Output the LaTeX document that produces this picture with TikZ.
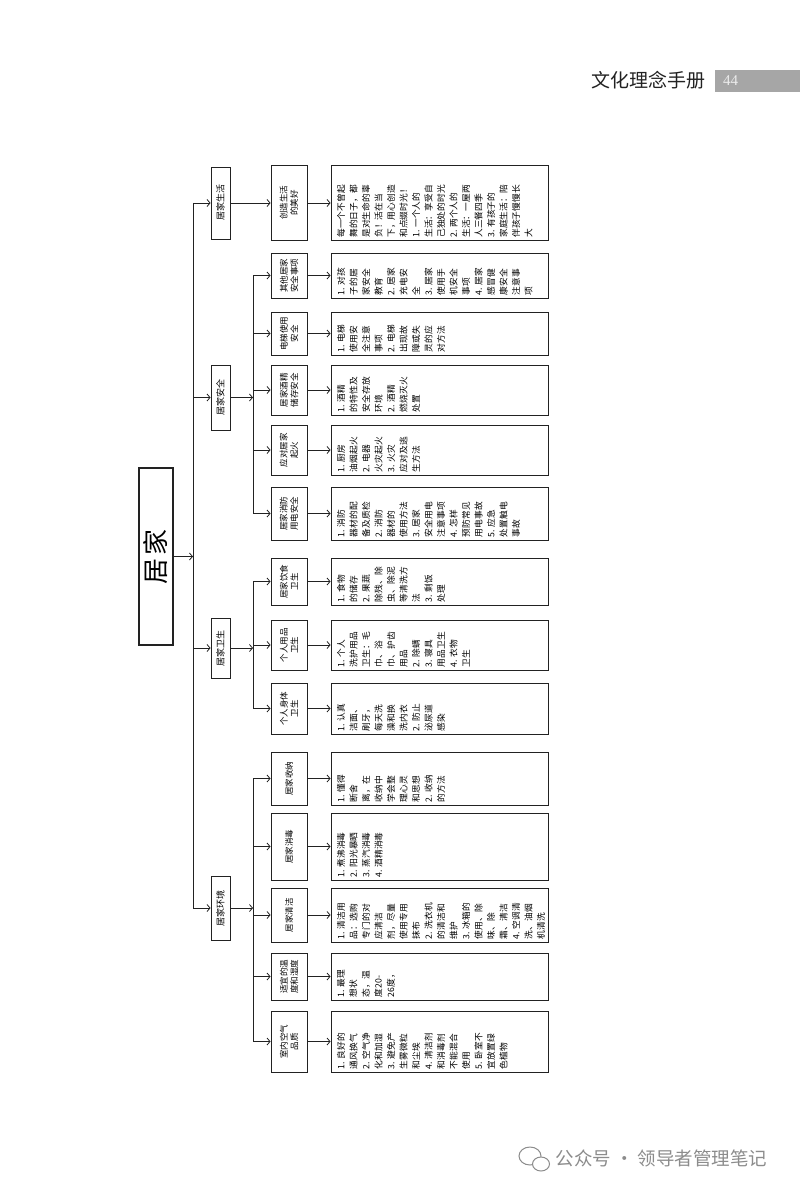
\documentclass[tikz,border=0pt]{standalone}
\usepackage{fontspec}
\setmainfont{Noto Sans CJK SC}
\newfontfamily\numfont{Liberation Serif}
\usetikzlibrary{arrows.meta}
\definecolor{InkGray}{HTML}{222222}
\definecolor{BarGray}{HTML}{A6A6A6}
\definecolor{MarkGray}{HTML}{8C8C8C}

\newcommand{\infotext}[2]{\parbox[c][205pt][t]{#1}{\raggedright #2}}

\begin{document}
\begin{tikzpicture}[x=1pt, y=-1pt,
  rootbox/.style={draw=InkGray, line width=1.3pt, rotate=90, minimum width=177pt, minimum height=34pt, inner sep=0pt, font=\fontsize{26}{26}\selectfont},
  catbox/.style={draw=InkGray, line width=0.9pt, rotate=90, minimum width=#1, minimum height=19pt, inner sep=0pt, font=\fontsize{9}{10}\selectfont},
  subbox/.style={draw=InkGray, line width=0.9pt, rotate=90, minimum width=#1, minimum height=36pt, inner sep=0pt, align=center, font=\fontsize{8.5}{10.5}\selectfont},
  infobox/.style={draw=InkGray, line width=0.9pt, rotate=90, inner xsep=3pt, inner ysep=6pt, font=\fontsize{8.7}{12.5}\selectfont},
  arrow/.style={-{Straight Barb[length=3pt,width=7pt]}, line width=0.8pt, InkGray},
  bus/.style={line width=0.8pt, InkGray},
]
\fill[white] (0,0) rectangle (800,1190);
\useasboundingbox (0,0) rectangle (800,1190);

% header
\node[font=\fontsize{19}{19}\selectfont, text=InkGray] (title) at (648,80) {文化理念手册};
\node[fill=BarGray, anchor=west, minimum height=22pt, text width=69pt, inner xsep=8pt, align=left, text=white!85!gray, font=\numfont\fontsize{15}{15}\selectfont] (pageno) at (715,81) {44};

% root and first level
\node[rootbox] (home) at (156,556.5) {居\hspace{3pt}家};
\coordinate (spine) at (193,556.5);
\node[catbox=72pt] (life) at (220.5,203) {居家生活};
\node[catbox=65pt] (safe) at (220.5,397.5) {居家安全};
\node[catbox=60pt] (hyg) at (220.5,648) {居家卫生};
\node[catbox=64pt] (env) at (220.5,908) {居家环境};
\coordinate (safebus) at (253,397.5);
\coordinate (hygbus) at (253,648);
\coordinate (envbus) at (253,908);

% second level
\node[subbox=75pt] (sub1) at (289,203) {创造生活\\的美好};
\node[subbox=45pt] (sub2) at (289,275.5) {其他居家\\安全事项};
\node[subbox=43pt] (sub3) at (289,333.5) {电梯使用\\安全};
\node[subbox=50pt] (sub4) at (289,390) {居家酒精\\储存安全};
\node[subbox=50pt] (sub5) at (289,450) {应对居家\\起火};
\node[subbox=53pt] (sub6) at (289,513.5) {居家消防\\用电安全};
\node[subbox=47pt] (sub7) at (289,581.5) {居家饮食\\卫生};
\node[subbox=50pt] (sub8) at (289,645) {个人用品\\卫生};
\node[subbox=51pt] (sub9) at (289,708.5) {个人身体\\卫生};
\node[subbox=53pt] (sub10) at (289,778.5) {居家收纳};
\node[subbox=67pt] (sub11) at (289,846.5) {居家消毒};
\node[subbox=54pt] (sub12) at (289,915) {居家清洁};
\node[subbox=47pt] (sub13) at (289,976.5) {适宜的温\\度和湿度};
\node[subbox=61pt] (sub14) at (289,1041.5) {室内空气\\品质};

% contents
\node[infobox] (info1) at (439.5,203) {\infotext{69pt}{每一个不曾起\\舞的日子，都\\是对生命的辜\\负！活在当\\下，用心创造\\和点缀时光！\\1. 一个人的\\生活：享受自\\己独处的时光\\2. 两个人的\\生活：一屋两\\人三餐四季\\3. 有孩子的\\家庭生活：陪\\伴孩子慢慢长\\大}};
\node[infobox] (info2) at (439.5,275.5) {\infotext{39pt}{1. 对孩\\子的居\\家安全\\教育\\2. 居家\\充电安\\全\\3. 居家\\使用手\\机安全\\事项\\4. 居家\\感冒健\\康安全\\注意事\\项}};
\node[infobox] (info3) at (439.5,333.5) {\infotext{37pt}{1. 电梯\\使用安\\全注意\\事项\\2. 电梯\\出现故\\障或失\\灵的应\\对方法}};
\node[infobox] (info4) at (439.5,390) {\infotext{44pt}{1. 酒精\\的特性及\\安全存放\\环境\\2. 酒精\\燃烧灭火\\处置}};
\node[infobox] (info5) at (439.5,450) {\infotext{44pt}{1. 厨房\\油烟起火\\2. 电器\\火灾起火\\3. 火灾\\应对及逃\\生方法}};
\node[infobox] (info6) at (439.5,513.5) {\infotext{47pt}{1. 消防\\器材的配\\备及质检\\2. 消防\\器材的\\使用方法\\3. 居家\\安全用电\\注意事项\\4. 怎样\\预防常见\\用电事故\\5. 应急\\处置触电\\事故}};
\node[infobox] (info7) at (439.5,581.5) {\infotext{41pt}{1. 食物\\的储存\\2. 果蔬\\除残、除\\虫、除泥\\等清洗方\\法\\3. 剩饭\\处理}};
\node[infobox] (info8) at (439.5,645) {\infotext{44pt}{1. 个人\\洗护用品\\卫生：毛\\巾、浴\\巾、护齿\\用品\\2. 除螨\\3. 寝具\\用品卫生\\4. 衣物\\卫生}};
\node[infobox] (info9) at (439.5,708.5) {\infotext{45pt}{1. 认真\\洁面、\\刷牙，\\每天洗\\澡和换\\洗内衣\\2. 防止\\泌尿道\\感染}};
\node[infobox] (info10) at (439.5,778.5) {\infotext{47pt}{1. 懂得\\断舍\\离，在\\收纳中\\学会整\\理心灵\\和思想\\2. 收纳\\的方法}};
\node[infobox] (info11) at (439.5,846.5) {\infotext{61pt}{1. 煮沸消毒\\2. 阳光暴晒\\3. 蒸汽消毒\\4. 酒精消毒}};
\node[infobox] (info12) at (439.5,915) {\infotext{48pt}{1. 清洁用\\品：选购\\专门的对\\应清洁\\剂，尽量\\使用专用\\抹布\\2. 洗衣机\\的清洁和\\维护\\3. 冰箱的\\使用、除\\味、除\\霜、清洁\\4. 空调清\\洗、油烟\\机清洗}};
\node[infobox] (info13) at (439.5,976.5) {\infotext{41pt}{1. 最理\\想状\\态，温\\度20-\\26度，}};
\node[infobox] (info14) at (439.5,1041.5) {\infotext{55pt}{1. 良好的\\通风换气\\2. 空气净\\化和加湿\\3. 避免产\\生雾微粒\\和尘埃\\4. 清洁剂\\和消毒剂\\不能混合\\使用\\5. 卧室不\\宜放置绿\\色植物}};

% connectors
\draw[arrow] (home) -- (spine);
\draw[bus] (spine |- life) -- (spine |- env);
\foreach \c in {life,safe,hyg,env}
  \draw[arrow] (spine |- \c) -- (\c);
\draw[arrow] (life) -- (sub1);
\draw[arrow] (safe) -- (safebus);
\draw[arrow] (hyg) -- (hygbus);
\draw[arrow] (env) -- (envbus);
\draw[bus] (safebus |- sub2) -- (safebus |- sub6);
\draw[bus] (hygbus |- sub7) -- (hygbus |- sub9);
\draw[bus] (envbus |- sub10) -- (envbus |- sub14);
\foreach \i in {2,...,6}
  \draw[arrow] (safebus |- sub\i) -- (sub\i);
\foreach \i in {7,8,9}
  \draw[arrow] (hygbus |- sub\i) -- (sub\i);
\foreach \i in {10,...,14}
  \draw[arrow] (envbus |- sub\i) -- (sub\i);
\foreach \i in {1,...,14}
  \draw[arrow] (sub\i) -- (info\i);

% footer mark
\draw[MarkGray, line width=1pt] (530,1156) ellipse (11pt and 9pt);
\draw[MarkGray, line width=1pt, fill=white] (541,1164) ellipse (8.5pt and 7pt);
\node[text=MarkGray, anchor=west, font=\fontsize{18.5}{18.5}\selectfont] (mark) at (552,1158) {公众号 · 领导者管理笔记};
\end{tikzpicture}
\end{document}
